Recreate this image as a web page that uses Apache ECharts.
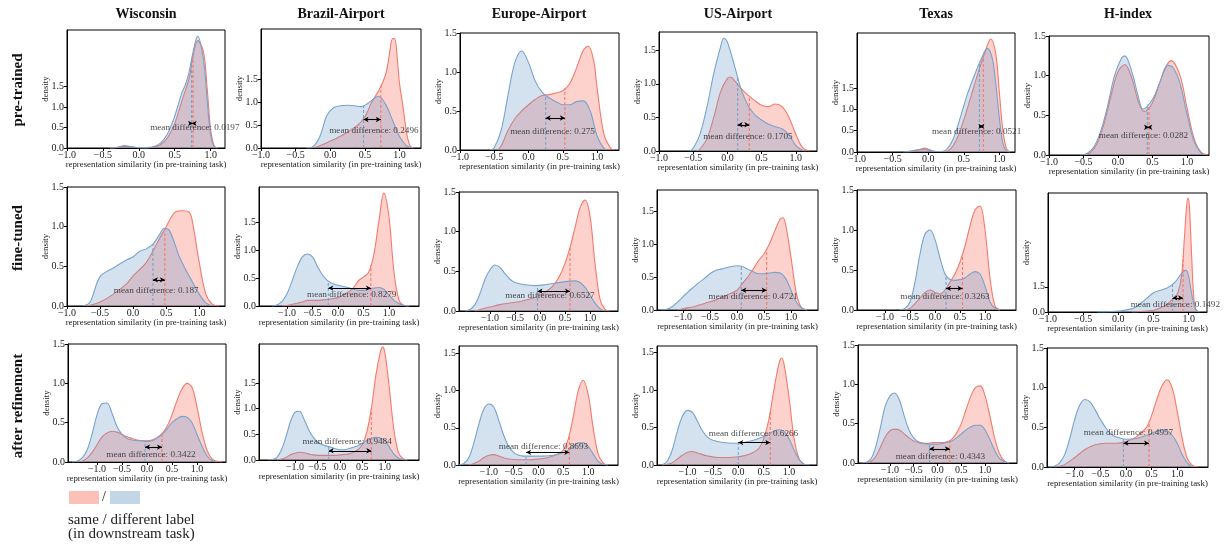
<!DOCTYPE html>
<html><head><meta charset="utf-8">
<script src="https://cdn.jsdelivr.net/npm/echarts@6/dist/echarts.min.js"></script>
<style>html,body{margin:0;padding:0;background:#fff}#c{width:1228px;height:544px}</style>
</head><body><div id="c"></div><script>
// ---------------- DATA ----------------
const colTitles = ['Wisconsin','Brazil-Airport','Europe-Airport','US-Airport','Texas','H-index'];
const rowLabels = ['pre-trained','fine-tuned','after refinement'];
const xTickValues = [-1,-0.5,0,0.5,1];
const yTickValues = [0,0.5,1,1.5];
const legendText = ['same / different label','(in downstream task)'];

// density curves [similarity, density]; "same" = same label (red), "diff" = different label (blue)
const wiPreSame = [[-0.4,0],[-0.3,0.01],[-0.2,0.04],[-0.1,0.03],[0,0.01],[0.1,0],[0.2,0.02],[0.3,0.08],[0.4,0.25],[0.5,0.6],[0.6,1.15],[0.7,1.7],[0.75,2.2],[0.82,2.62],[0.9,2.35],[0.95,1.5],[1.0,0.45],[1.05,0.05],[1.1,0]];
const wiPreDiff = [[-0.4,0],[-0.3,0.02],[-0.2,0.06],[-0.1,0.03],[0,0.01],[0.1,0.01],[0.2,0.03],[0.3,0.12],[0.4,0.35],[0.5,0.78],[0.6,1.35],[0.65,1.55],[0.7,1.85],[0.75,2.3],[0.82,2.73],[0.9,2.15],[0.95,1.2],[1.0,0.3],[1.05,0.03],[1.1,0]];
const brPreSame = [[-0.3,0],[-0.2,0.02],[-0.1,0.08],[0,0.15],[0.1,0.22],[0.2,0.3],[0.3,0.4],[0.4,0.5],[0.5,0.68],[0.6,1.0],[0.7,1.25],[0.8,1.6],[0.85,2.0],[0.9,2.38],[0.93,2.38],[0.97,1.9],[1.0,1.4],[1.05,0.9],[1.1,0.35],[1.15,0.05],[1.2,0]];
const brPreDiff = [[-0.35,0],[-0.25,0.03],[-0.15,0.25],[-0.05,0.7],[0.05,0.88],[0.15,0.92],[0.25,0.93],[0.35,0.92],[0.45,0.9],[0.55,0.98],[0.65,1.1],[0.7,1.12],[0.8,0.95],[0.9,0.6],[1.0,0.25],[1.1,0.05],[1.2,0]];
const euPreSame = [[-0.45,0],[-0.4,0.05],[-0.3,0.25],[-0.2,0.4],[-0.1,0.5],[0,0.58],[0.1,0.65],[0.2,0.7],[0.3,0.71],[0.4,0.73],[0.5,0.76],[0.6,0.85],[0.7,1.05],[0.8,1.28],[0.87,1.33],[0.95,1.15],[1.0,0.8],[1.1,0.2],[1.2,0.02],[1.25,0]];
const euPreDiff = [[-0.55,0],[-0.5,0.03],[-0.4,0.25],[-0.3,0.7],[-0.2,1.12],[-0.1,1.27],[0,1.12],[0.1,0.88],[0.2,0.74],[0.3,0.67],[0.4,0.62],[0.5,0.58],[0.6,0.58],[0.7,0.62],[0.8,0.63],[0.9,0.5],[1.0,0.18],[1.1,0.02],[1.15,0]];
const usPreSame = [[-0.45,0],[-0.4,0.03],[-0.3,0.18],[-0.2,0.5],[-0.1,0.88],[0,1.08],[0.05,1.1],[0.1,1.05],[0.2,0.93],[0.3,0.83],[0.4,0.75],[0.5,0.68],[0.6,0.66],[0.7,0.7],[0.8,0.66],[0.9,0.5],[1.0,0.25],[1.1,0.05],[1.2,0]];
const usPreDiff = [[-0.55,0],[-0.5,0.04],[-0.4,0.25],[-0.3,0.65],[-0.2,1.15],[-0.1,1.55],[-0.05,1.68],[0,1.62],[0.1,1.28],[0.2,0.92],[0.3,0.68],[0.4,0.54],[0.5,0.46],[0.6,0.4],[0.7,0.36],[0.8,0.33],[0.9,0.24],[1.0,0.08],[1.1,0.01],[1.15,0]];
const txPreSame = [[-0.3,0],[-0.2,0.02],[-0.1,0.07],[-0.05,0.09],[0,0.07],[0.1,0.01],[0.2,0.01],[0.3,0.05],[0.4,0.3],[0.5,0.75],[0.6,1.3],[0.7,1.85],[0.8,2.35],[0.88,2.65],[0.95,2.3],[1.0,1.4],[1.05,0.5],[1.1,0.08],[1.15,0]];
const txPreDiff = [[-0.35,0],[-0.25,0.02],[-0.15,0.05],[-0.05,0.06],[0.05,0.03],[0.15,0.01],[0.25,0.05],[0.35,0.3],[0.45,0.8],[0.55,1.35],[0.65,1.8],[0.75,2.2],[0.83,2.43],[0.9,2.2],[0.95,1.6],[1.0,0.8],[1.05,0.2],[1.1,0.02],[1.15,0]];
const hiPreSame = [[-0.5,0],[-0.4,0.03],[-0.3,0.15],[-0.2,0.4],[-0.1,0.75],[0,1.05],[0.1,1.14],[0.2,0.97],[0.3,0.66],[0.38,0.55],[0.5,0.66],[0.6,0.9],[0.7,1.12],[0.77,1.19],[0.9,1.0],[1.0,0.6],[1.1,0.22],[1.2,0.04],[1.3,0]];
const hiPreDiff = [[-0.55,0],[-0.45,0.02],[-0.35,0.1],[-0.25,0.3],[-0.15,0.62],[-0.05,1.0],[0.05,1.22],[0.1,1.25],[0.2,1.05],[0.3,0.72],[0.36,0.58],[0.5,0.7],[0.6,0.9],[0.72,1.13],[0.8,1.1],[0.9,0.9],[1.0,0.52],[1.1,0.18],[1.2,0.03],[1.25,0]];

const wiFtSame = [[-0.7,0],[-0.5,0.05],[-0.3,0.15],[-0.1,0.28],[0,0.38],[0.2,0.55],[0.4,0.85],[0.5,1.0],[0.6,1.15],[0.65,1.19],[0.75,1.2],[0.85,1.18],[0.9,1.05],[1.0,0.55],[1.1,0.15],[1.2,0.02],[1.3,0]];
const wiFtDiff = [[-0.75,0],[-0.65,0.05],[-0.5,0.37],[-0.3,0.48],[-0.1,0.58],[0,0.62],[0.1,0.69],[0.2,0.72],[0.3,0.78],[0.4,0.9],[0.47,0.98],[0.55,0.95],[0.7,0.62],[0.8,0.45],[0.9,0.3],[1.0,0.15],[1.1,0.04],[1.2,0]];
const brFtSame = [[-1.1,0],[-1.0,0.01],[-0.9,0.03],[-0.8,0.05],[-0.7,0.07],[-0.6,0.1],[-0.4,0.1],[-0.2,0.12],[0,0.15],[0.1,0.2],[0.2,0.25],[0.3,0.32],[0.4,0.45],[0.5,0.52],[0.6,0.6],[0.7,0.9],[0.8,1.5],[0.9,2.02],[1.0,1.6],[1.1,0.6],[1.2,0.1],[1.3,0.01],[1.4,0]];
const brFtDiff = [[-1.3,0],[-1.2,0.02],[-1.1,0.08],[-1.0,0.22],[-0.9,0.45],[-0.8,0.7],[-0.7,0.88],[-0.6,0.93],[-0.5,0.88],[-0.4,0.7],[-0.3,0.55],[-0.2,0.45],[-0.1,0.4],[0,0.37],[0.1,0.35],[0.2,0.33],[0.3,0.3],[0.4,0.28],[0.5,0.28],[0.6,0.3],[0.7,0.32],[0.8,0.33],[0.9,0.3],[1.0,0.2],[1.1,0.1],[1.2,0.04],[1.3,0.01],[1.4,0]];
const euFtSame = [[-1.3,0],[-1.2,0.02],[-1.0,0.05],[-0.8,0.08],[-0.6,0.1],[-0.4,0.12],[-0.2,0.15],[0,0.2],[0.2,0.28],[0.3,0.35],[0.4,0.45],[0.5,0.6],[0.6,0.8],[0.7,1.05],[0.8,1.3],[0.9,1.4],[1.0,1.2],[1.1,0.6],[1.2,0.15],[1.3,0.02],[1.4,0]];
const euFtDiff = [[-1.5,0],[-1.4,0.02],[-1.3,0.08],[-1.2,0.22],[-1.1,0.4],[-1.0,0.52],[-0.9,0.58],[-0.8,0.55],[-0.7,0.47],[-0.6,0.4],[-0.5,0.36],[-0.3,0.33],[-0.1,0.32],[0.1,0.33],[0.3,0.35],[0.5,0.37],[0.7,0.38],[0.8,0.36],[0.9,0.3],[1.0,0.2],[1.1,0.1],[1.2,0.03],[1.3,0]];
const usFtSame = [[-1.1,0],[-1.0,0.02],[-0.8,0.05],[-0.6,0.1],[-0.4,0.15],[-0.2,0.22],[0,0.3],[0.1,0.4],[0.2,0.5],[0.3,0.62],[0.4,0.75],[0.5,0.85],[0.6,1.0],[0.7,1.2],[0.8,1.38],[0.85,1.4],[0.9,1.3],[1.0,0.8],[1.1,0.25],[1.2,0.03],[1.3,0]];
const usFtDiff = [[-1.4,0],[-1.3,0.01],[-1.2,0.05],[-1.1,0.12],[-1.0,0.2],[-0.9,0.28],[-0.8,0.35],[-0.7,0.42],[-0.6,0.48],[-0.5,0.55],[-0.4,0.6],[-0.3,0.62],[-0.2,0.64],[-0.1,0.66],[0,0.67],[0.1,0.66],[0.2,0.62],[0.3,0.58],[0.4,0.55],[0.5,0.55],[0.6,0.56],[0.7,0.57],[0.8,0.56],[0.9,0.48],[1.0,0.3],[1.1,0.12],[1.2,0.03],[1.3,0]];
const txFtSame = [[-0.6,0],[-0.5,0.02],[-0.4,0.08],[-0.3,0.15],[-0.2,0.22],[-0.1,0.25],[0,0.22],[0.1,0.2],[0.2,0.25],[0.3,0.35],[0.4,0.45],[0.5,0.6],[0.6,0.8],[0.7,1.05],[0.8,1.25],[0.9,1.3],[1.0,1.0],[1.1,0.4],[1.2,0.05],[1.3,0]];
const txFtDiff = [[-0.7,0],[-0.6,0.02],[-0.5,0.1],[-0.4,0.35],[-0.3,0.7],[-0.2,0.95],[-0.1,1.0],[0,0.88],[0.1,0.65],[0.2,0.45],[0.3,0.38],[0.4,0.37],[0.5,0.38],[0.6,0.4],[0.7,0.45],[0.8,0.48],[0.9,0.45],[1.0,0.3],[1.1,0.1],[1.2,0.02],[1.3,0]];
const hiFtSame = [[0.2,0],[0.3,0.03],[0.5,0.1],[0.6,0.25],[0.7,0.5],[0.8,0.9],[0.85,1.2],[0.9,2.2],[0.94,4.5],[0.97,6.3],[0.99,6.8],[1.01,6.3],[1.04,3.5],[1.07,1.0],[1.1,0.15],[1.15,0]];
const hiFtDiff = [[-0.3,0],[-0.1,0.02],[0,0.05],[0.2,0.2],[0.3,0.45],[0.4,0.8],[0.5,1.15],[0.6,1.3],[0.7,1.45],[0.8,1.75],[0.9,2.3],[0.96,2.5],[1.0,2.1],[1.05,0.9],[1.1,0.15],[1.15,0]];

const wiRfSame = [[-1.4,0],[-1.3,0.01],[-1.2,0.05],[-1.1,0.12],[-1.0,0.22],[-0.9,0.32],[-0.8,0.37],[-0.7,0.39],[-0.6,0.38],[-0.5,0.35],[-0.4,0.32],[-0.3,0.3],[-0.2,0.28],[-0.1,0.27],[0,0.27],[0.1,0.28],[0.2,0.31],[0.3,0.36],[0.4,0.45],[0.5,0.6],[0.6,0.78],[0.7,0.93],[0.8,1.0],[0.9,0.95],[1.0,0.7],[1.1,0.38],[1.2,0.15],[1.3,0.04],[1.4,0.01],[1.5,0]];
const wiRfDiff = [[-1.5,0],[-1.4,0.01],[-1.3,0.05],[-1.2,0.15],[-1.1,0.35],[-1.0,0.6],[-0.9,0.74],[-0.8,0.75],[-0.7,0.62],[-0.6,0.45],[-0.5,0.35],[-0.4,0.3],[-0.3,0.28],[-0.2,0.27],[-0.1,0.27],[0,0.26],[0.1,0.27],[0.2,0.3],[0.3,0.35],[0.4,0.42],[0.5,0.5],[0.6,0.55],[0.7,0.58],[0.8,0.57],[0.9,0.5],[1.0,0.35],[1.1,0.2],[1.2,0.08],[1.3,0.02],[1.4,0]];
const brRfSame = [[-1.4,0],[-1.3,0.02],[-1.2,0.05],[-1.1,0.1],[-1.0,0.13],[-0.9,0.15],[-0.8,0.14],[-0.7,0.12],[-0.6,0.1],[-0.5,0.09],[-0.3,0.09],[-0.1,0.09],[0,0.1],[0.1,0.11],[0.2,0.12],[0.3,0.15],[0.4,0.2],[0.5,0.3],[0.6,0.55],[0.7,1.0],[0.8,1.65],[0.9,2.1],[0.95,2.2],[1.0,2.1],[1.1,1.4],[1.2,0.6],[1.3,0.15],[1.4,0.03],[1.5,0]];
const brRfDiff = [[-1.6,0],[-1.5,0.01],[-1.4,0.05],[-1.3,0.2],[-1.2,0.45],[-1.1,0.75],[-1.0,0.93],[-0.9,0.95],[-0.8,0.8],[-0.7,0.6],[-0.6,0.45],[-0.5,0.35],[-0.4,0.3],[-0.3,0.27],[-0.2,0.25],[-0.1,0.22],[0,0.2],[0.1,0.2],[0.2,0.22],[0.3,0.25],[0.4,0.28],[0.5,0.33],[0.6,0.38],[0.7,0.42],[0.8,0.44],[0.9,0.43],[1.0,0.38],[1.1,0.25],[1.2,0.12],[1.3,0.04],[1.4,0.01],[1.5,0]];
const euRfSame = [[-1.4,0],[-1.3,0.02],[-1.2,0.05],[-1.1,0.1],[-1.0,0.13],[-0.9,0.14],[-0.8,0.12],[-0.6,0.08],[-0.4,0.07],[-0.2,0.07],[0,0.08],[0.2,0.1],[0.4,0.15],[0.5,0.2],[0.6,0.35],[0.7,0.65],[0.8,1.0],[0.9,1.14],[1.0,0.95],[1.1,0.5],[1.2,0.15],[1.3,0.03],[1.4,0]];
const euRfDiff = [[-1.6,0],[-1.5,0.02],[-1.4,0.1],[-1.3,0.3],[-1.2,0.55],[-1.1,0.75],[-1.0,0.82],[-0.9,0.78],[-0.8,0.6],[-0.7,0.4],[-0.6,0.25],[-0.5,0.17],[-0.4,0.13],[-0.3,0.12],[-0.1,0.12],[0.1,0.12],[0.3,0.13],[0.5,0.17],[0.6,0.2],[0.7,0.25],[0.8,0.3],[0.9,0.3],[1.0,0.25],[1.1,0.15],[1.2,0.05],[1.3,0.01],[1.4,0]];
const usRfSame = [[-1.5,0],[-1.4,0.01],[-1.3,0.03],[-1.2,0.08],[-1.1,0.13],[-1.0,0.17],[-0.9,0.18],[-0.8,0.16],[-0.6,0.12],[-0.4,0.1],[-0.2,0.1],[0,0.11],[0.2,0.14],[0.4,0.22],[0.5,0.35],[0.6,0.6],[0.7,1.0],[0.8,1.35],[0.85,1.43],[0.9,1.35],[1.0,0.9],[1.1,0.35],[1.2,0.08],[1.3,0]];
const usRfDiff = [[-1.5,0],[-1.4,0.05],[-1.3,0.2],[-1.2,0.45],[-1.1,0.65],[-1.0,0.73],[-0.9,0.7],[-0.8,0.58],[-0.7,0.45],[-0.6,0.37],[-0.5,0.33],[-0.3,0.3],[-0.1,0.29],[0.1,0.3],[0.3,0.33],[0.5,0.38],[0.7,0.45],[0.8,0.47],[0.9,0.45],[1.0,0.35],[1.1,0.2],[1.2,0.07],[1.3,0.01],[1.4,0]];
const txRfSame = [[-1.5,0],[-1.4,0.02],[-1.3,0.08],[-1.2,0.2],[-1.1,0.33],[-1.0,0.41],[-0.9,0.43],[-0.8,0.42],[-0.7,0.37],[-0.6,0.32],[-0.5,0.28],[-0.4,0.26],[-0.3,0.25],[-0.2,0.25],[-0.1,0.26],[0,0.26],[0.1,0.26],[0.2,0.27],[0.3,0.3],[0.4,0.38],[0.5,0.5],[0.6,0.68],[0.7,0.85],[0.8,0.96],[0.9,0.98],[1.0,0.85],[1.1,0.6],[1.2,0.32],[1.3,0.12],[1.4,0.03],[1.5,0]];
const txRfDiff = [[-1.6,0],[-1.5,0.01],[-1.4,0.05],[-1.3,0.2],[-1.2,0.45],[-1.1,0.72],[-1.0,0.85],[-0.9,0.89],[-0.8,0.8],[-0.7,0.6],[-0.6,0.42],[-0.5,0.32],[-0.4,0.27],[-0.3,0.25],[-0.2,0.24],[0,0.24],[0.1,0.25],[0.2,0.26],[0.3,0.28],[0.4,0.32],[0.5,0.37],[0.6,0.42],[0.7,0.46],[0.8,0.48],[0.9,0.48],[1.0,0.42],[1.1,0.3],[1.2,0.16],[1.3,0.06],[1.4,0.02],[1.5,0]];
const hiRfSame = [[-1.4,0],[-1.3,0.01],[-1.2,0.03],[-1.0,0.12],[-0.8,0.22],[-0.6,0.28],[-0.4,0.3],[-0.2,0.3],[0,0.32],[0.2,0.38],[0.4,0.5],[0.5,0.65],[0.6,0.85],[0.7,1.02],[0.8,1.1],[0.9,1.0],[1.0,0.7],[1.1,0.35],[1.2,0.1],[1.3,0.02],[1.4,0]];
const hiRfDiff = [[-1.5,0],[-1.4,0.01],[-1.3,0.05],[-1.2,0.15],[-1.1,0.35],[-1.0,0.6],[-0.9,0.78],[-0.8,0.85],[-0.7,0.82],[-0.6,0.72],[-0.5,0.6],[-0.4,0.5],[-0.3,0.42],[-0.2,0.38],[0,0.35],[0.2,0.36],[0.4,0.4],[0.6,0.45],[0.7,0.47],[0.8,0.46],[0.9,0.4],[1.0,0.3],[1.1,0.15],[1.2,0.05],[1.3,0]];

// axis ranges per panel (x min, x max, y max)
const xMins = [-1,-1,-1,-1,-1,-1,  -1,-1.55,-1.62,-1.48,-1.56,-1,  -1.58,-1.8,-1.6,-1.6,-1.67,-1.54];
const xMaxs = [1.2,1.31,1.32,1.31,1.22,1.32,  1.39,1.59,1.56,1.5,1.62,1.26,  1.58,1.76,1.6,1.55,1.67,1.6];
const yMaxs = [2.88,2.59,1.5,1.77,2.79,1.5,  1.5,2.13,1.5,1.82,1.5,7.1,  1.5,2.26,1.6,1.59,1.5,1.5];
// means: [different label, same label]
const meanDiff = [0.735,0.48,0.25,0.15,0.72,0.425,  0.3,-0.19,-0.05,0.08,0.22,0.77,  -0.04,-0.25,-0.25,0.0,-0.17,-0.05];
const meanSame = [0.755,0.73,0.53,0.32,0.775,0.45,  0.48,0.645,0.6,0.55,0.55,0.92,  0.3,0.7,0.62,0.63,0.26,0.45];
const meanDiffText = ['0.0197','0.2496','0.275','0.1705','0.0521','0.0282','0.187','0.8279','0.6527','0.4721','0.3263','0.1492','0.3422','0.9484','0.8693','0.6266','0.4343','0.4957'];
const curvesSame = [wiPreSame,brPreSame,euPreSame,usPreSame,txPreSame,hiPreSame,wiFtSame,brFtSame,euFtSame,usFtSame,txFtSame,hiFtSame,wiRfSame,brRfSame,euRfSame,usRfSame,txRfSame,hiRfSame];
const curvesDiff = [wiPreDiff,brPreDiff,euPreDiff,usPreDiff,txPreDiff,hiPreDiff,wiFtDiff,brFtDiff,euFtDiff,usFtDiff,txFtDiff,hiFtDiff,wiRfDiff,brRfDiff,euRfDiff,usRfDiff,txRfDiff,hiRfDiff];

// ---------------- LAYOUT ----------------
const boxes = [
 [67,30,225,148],[261,29,421,148],[460,33,619,150],[659,32,817,151],[857,33,1015,152],[1049,36,1209,155],
 [67,187,225,306],[259,187,419,306],[459,192,618,311],[657,190,818,310],[857,190,1016,310],[1048,193,1207,312],
 [68,344,226,462],[259,344,419,460],[459,346,618,465],[657,346,817,465],[858,345,1017,463],[1047,348,1208,467]];
// annotation placement (arrow y, text x, text y) in data units
const arrowYs = [0.6,0.62,0.41,0.39,0.6,0.35, 0.33,0.32,0.25,0.3,0.27,0.84, 0.19,0.18,0.17,0.3,0.18,0.3];
const textXs = [0.78,0.63,0.35,0.3,0.68,0.37, 0.35,0.27,0.2,0.3,0.2,0.81, 0.08,0.16,0.1,0.3,0.06,0.05];
const textYs = [0.49,0.37,0.24,0.22,0.49,0.24, 0.19,0.2,0.2,0.2,0.17,0.42, 0.1,0.35,0.25,0.42,0.08,0.44];

const RED='#f47a6c', RED_FILL='rgba(250,128,114,0.5)', BLUE='#77a3cd', BLUE_FILL='rgba(100,150,200,0.4)';
const SERIF='"Liberation Serif","DejaVu Serif",serif';

function interp(curve,x){
  for(let i=0;i<curve.length-1;i++){
    const a=curve[i],b=curve[i+1];
    if(x>=a[0]&&x<=b[0]){return a[1]+(b[1]-a[1])*(x-a[0])/(b[0]-a[0]);}
  }
  return 0;
}
function fmt(v){ return (v<0?'\u2212':'')+Math.abs(v).toFixed(1); }

const grids=[],xAxes=[],yAxes=[],series=[];
for(let i=0;i<18;i++){
  const b=boxes[i];
  grids.push({left:b[0],top:b[1],width:b[2]-b[0],height:b[3]-b[1],show:true,borderColor:'#000',borderWidth:1,backgroundColor:'transparent'});
  xAxes.push({type:'value',gridIndex:i,min:xMins[i],max:xMaxs[i],
    name:'representation similarity (in pre-training task)',nameLocation:'middle',nameGap:12,nameMoveOverlap:false,
    nameTextStyle:{fontFamily:SERIF,fontSize:8.8,color:'#222'},
    axisLine:{show:true,onZero:false,lineStyle:{color:'#000',width:1}},
    axisTick:{show:true,length:3,customValues:xTickValues,lineStyle:{color:'#000'}},
    axisLabel:{customValues:xTickValues,formatter:fmt,fontFamily:SERIF,fontSize:10,color:'#222',margin:2,hideOverlap:false,interval:0},
    splitLine:{show:false}});
  yAxes.push({type:'value',gridIndex:i,min:0,max:yMaxs[i],
    name:'density',nameLocation:'middle',nameGap:17,nameRotate:90,nameMoveOverlap:false,
    nameTextStyle:{fontFamily:SERIF,fontSize:8.8,color:'#222'},
    axisLine:{show:true,onZero:false,lineStyle:{color:'#000',width:1}},
    axisTick:{show:true,length:3,customValues:yTickValues,lineStyle:{color:'#000'}},
    axisLabel:{customValues:yTickValues,formatter:v=>v.toFixed(1),fontFamily:SERIF,fontSize:10,color:'#222',margin:3,hideOverlap:false,interval:0,showMinLabel:true,showMaxLabel:true},
    splitLine:{show:false}});
  const base={xAxisIndex:i,yAxisIndex:i,animation:false,silent:true};
  series.push(Object.assign({type:'line',data:curvesSame[i],smooth:0.35,showSymbol:false,z:2,
    lineStyle:{color:RED,width:1.1},areaStyle:{color:RED_FILL,origin:'start'}},base));
  series.push(Object.assign({type:'line',data:curvesDiff[i],smooth:0.35,showSymbol:false,z:3,
    lineStyle:{color:BLUE,width:1.1},areaStyle:{color:BLUE_FILL,origin:'start'}},base));
  const ms=meanSame[i], md=meanDiff[i];
  series.push(Object.assign({type:'line',data:[[ms,0],[ms,interp(curvesSame[i],ms)]],showSymbol:false,z:4,
    lineStyle:{color:RED,width:1.1,type:[3,2]}},base));
  series.push(Object.assign({type:'line',data:[[md,0],[md,interp(curvesDiff[i],md)]],showSymbol:false,z:4,
    lineStyle:{color:BLUE,width:1.1,type:[3,2]},
    markLine:{silent:true,animation:false,symbol:['arrow','arrow'],symbolSize:[4,5],label:{show:false},
      lineStyle:{color:'#000',width:1.1,type:'solid'},
      data:[[{coord:[md,arrowYs[i]]},{coord:[ms,arrowYs[i]]}]]}},base));
  series.push(Object.assign({type:'scatter',data:[[textXs[i],textYs[i]]],symbolSize:1,itemStyle:{color:'rgba(0,0,0,0)'},clip:false,z:6,
    label:{show:true,position:'inside',formatter:'mean difference: '+meanDiffText[i],fontFamily:SERIF,fontSize:9.2,color:'#222'}},base));
}

const graphics=[];
const colCenters=[146,341,539,738,936,1128];
colTitles.forEach((t,j)=>graphics.push({type:'text',x:colCenters[j],y:14,style:{text:t,font:'bold 14px '+SERIF,fill:'#111',textAlign:'center',textVerticalAlign:'middle'}}));
const rowCenters=[90,238,406];
rowLabels.forEach((t,j)=>graphics.push({type:'text',x:18,y:rowCenters[j],rotation:Math.PI/2,style:{text:t,font:'bold 15px '+SERIF,fill:'#111',textAlign:'center',textVerticalAlign:'middle'}}));
graphics.push({type:'rect',shape:{x:69,y:491,width:30,height:13},style:{fill:'#fbc0b8'}});
graphics.push({type:'text',x:104,y:497,style:{text:'/',font:'14px '+SERIF,fill:'#222',textAlign:'center',textVerticalAlign:'middle'}});
graphics.push({type:'rect',shape:{x:110,y:491,width:30,height:13},style:{fill:'#c3d6e8'}});
graphics.push({type:'text',x:68,y:520,style:{text:legendText[0],font:'15px '+SERIF,fill:'#222',textAlign:'left',textVerticalAlign:'middle'}});
graphics.push({type:'text',x:68,y:534,style:{text:legendText[1],font:'15px '+SERIF,fill:'#222',textAlign:'left',textVerticalAlign:'middle'}});

const chart=echarts.init(document.getElementById('c'),null,{renderer:'canvas'});
chart.setOption({animation:false,backgroundColor:'#fff',grid:grids,xAxis:xAxes,yAxis:yAxes,series:series,graphic:graphics});
</script></body></html>
